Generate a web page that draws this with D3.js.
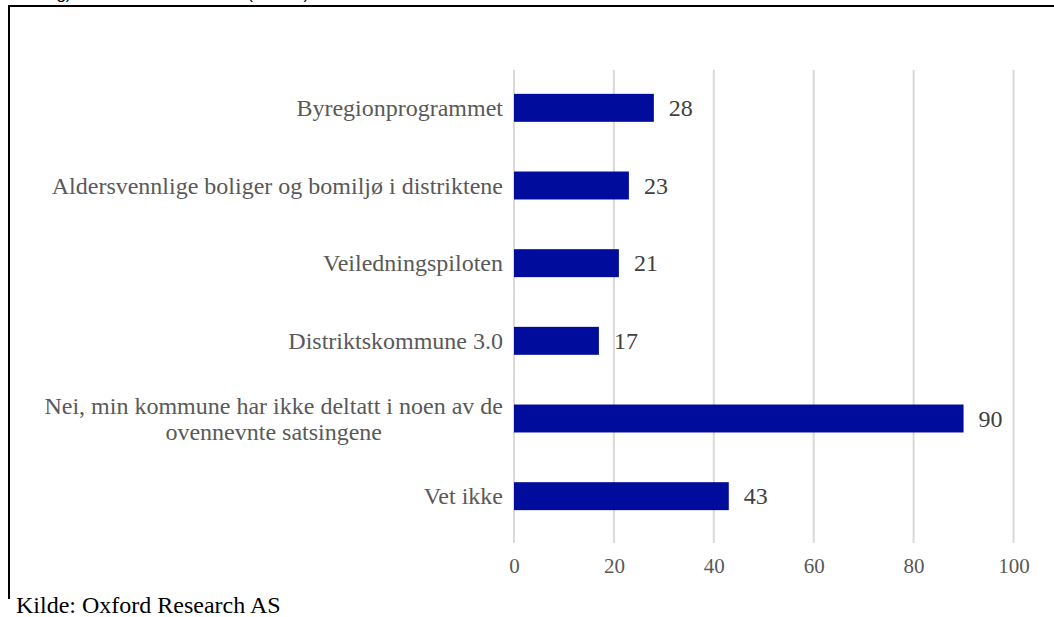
<!DOCTYPE html>
<html>
<head>
<meta charset="utf-8">
<script src="https://cdn.jsdelivr.net/npm/d3@7"></script>
<style>
  body { margin: 0; background: #fff; }
  svg { display: block; }
</style>
</head>
<body>
<svg width="1054" height="617"></svg>
<script>
var categories = [
  ['Byregionprogrammet'],
  ['Aldersvennlige boliger og bomiljø i distriktene'],
  ['Veiledningspiloten'],
  ['Distriktskommune 3.0'],
  ['Nei, min kommune har ikke deltatt i noen av de', 'ovennevnte satsingene'],
  ['Vet ikke']
];
var values = [28, 23, 21, 17, 90, 43];
var xTicks = [0, 20, 40, 60, 80, 100];
var source = 'Kilde: Oxford Research AS';
var caption = 'satsing) blant alle kommunene (N=190).';

var svg = d3.select('svg'),
    width = +svg.attr('width'),
    height = +svg.attr('height'),
    margin = {left: 514, right: 40, top: 69, bottom: 82},
    serif = '"Liberation Serif", "Times New Roman", serif';

var x = d3.scaleLinear()
    .domain([0, 100])
    .range([margin.left, 1013.5]);

var y = d3.scaleBand()
    .domain(d3.range(categories.length))
    .range([margin.top, height - margin.bottom]);

var barH = y.step() * 0.36;

// frame of the figure box
svg.append('path')
    .attr('d', 'M9,599V6H' + width)
    .attr('fill', 'none')
    .attr('stroke', '#000')
    .attr('stroke-width', 2);

// caption cut by the top edge
svg.append('text')
    .attr('x', 12)
    .attr('y', -1)
    .attr('font-family', '"Liberation Sans", Arial, sans-serif')
    .attr('font-size', 17)
    .attr('fill', '#000')
    .text(caption);

// vertical gridlines
svg.append('g')
    .selectAll('line')
    .data(xTicks)
    .enter().append('line')
    .attr('x1', function(d) { return x(d); })
    .attr('x2', function(d) { return x(d); })
    .attr('y1', 70)
    .attr('y2', 543)
    .attr('stroke', '#d9d9d9')
    .attr('stroke-width', 2);

// x axis labels
var xAxis = svg.append('g')
    .attr('transform', 'translate(0,' + 573 + ')')
    .call(d3.axisBottom(x).tickValues(xTicks).tickSize(0).tickPadding(0));
xAxis.select('.domain').remove();
xAxis.selectAll('text')
    .attr('font-family', serif)
    .attr('font-size', 21)
    .attr('fill', '#595959')
    .attr('dy', 0);

// bars
svg.append('g')
    .selectAll('rect')
    .data(values)
    .enter().append('rect')
    .attr('x', x(0))
    .attr('y', function(d, i) { return y(i) + y.bandwidth() / 2 - barH / 2; })
    .attr('width', function(d) { return x(d) - x(0); })
    .attr('height', barH)
    .attr('fill', '#000c9b');

// value labels
svg.append('g')
    .selectAll('text')
    .data(values)
    .enter().append('text')
    .attr('x', function(d) { return x(d) + 15; })
    .attr('y', function(d, i) { return y(i) + y.bandwidth() / 2 + 8; })
    .attr('font-family', serif)
    .attr('font-size', 24)
    .attr('fill', '#404040')
    .text(function(d) { return d; });

// category labels (right aligned block, lines centred on each other)
var labels = svg.append('g')
    .selectAll('text')
    .data(categories)
    .enter().append('text')
    .attr('font-family', serif)
    .attr('font-size', 24)
    .attr('fill', '#595959');

labels.each(function(lines, i) {
  var t = d3.select(this);
  var lineH = 26;
  var y0 = y(i) + y.bandwidth() / 2 + 8 - (lines.length - 1) * lineH / 2;
  lines.forEach(function(s, k) {
    t.append('tspan')
      .attr('y', y0 + k * lineH)
      .text(s);
  });
  var w = d3.max(t.selectAll('tspan').nodes(), function(n) { return n.getComputedTextLength(); });
  t.attr('text-anchor', 'middle');
  t.selectAll('tspan').attr('x', margin.left - 11 - w / 2);
});

// source
svg.append('text')
    .attr('x', 16)
    .attr('y', 613)
    .attr('font-family', serif)
    .attr('font-size', 24)
    .attr('fill', '#000')
    .text(source);
</script>
</body>
</html>
